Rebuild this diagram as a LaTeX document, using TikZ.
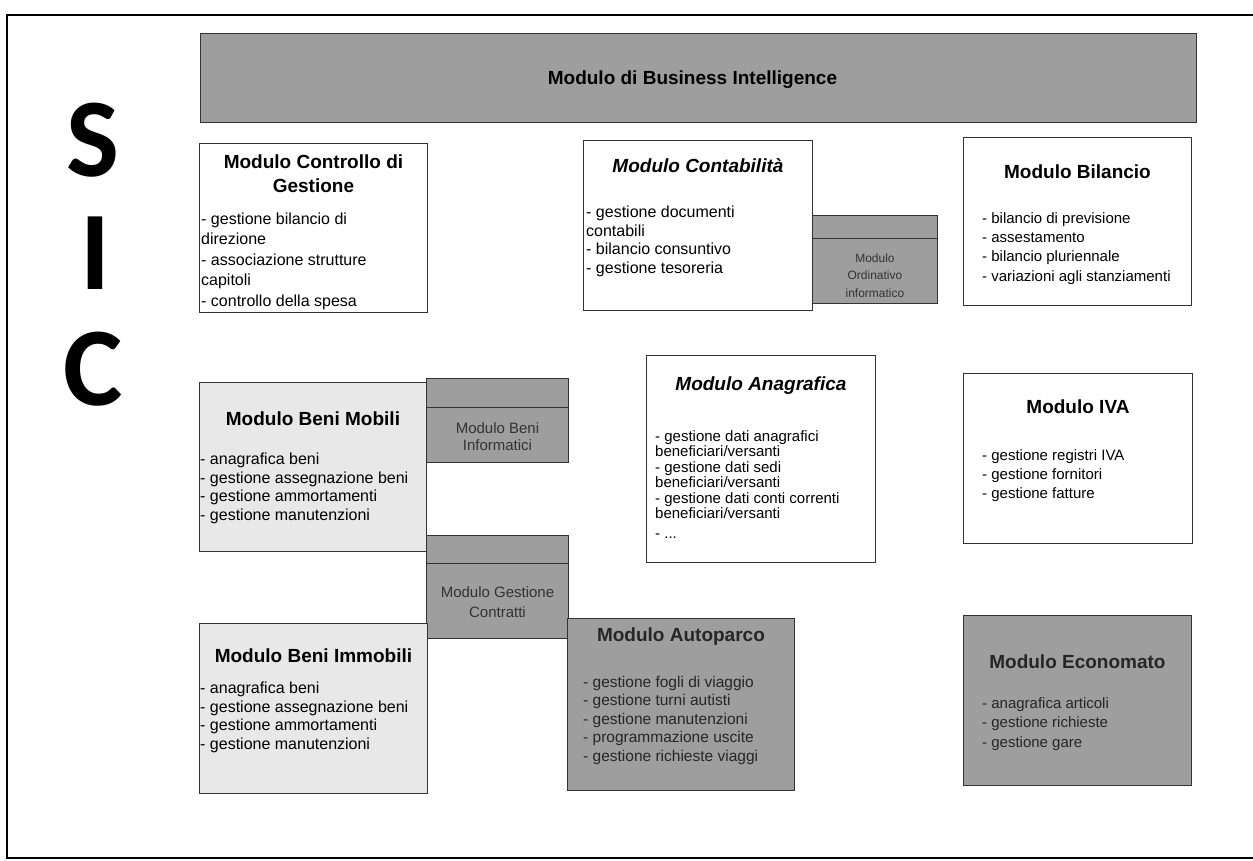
\documentclass[tikz,border=0pt]{standalone}
\usepackage{fontspec}
\setmainfont{Liberation Sans}
\newfontfamily\sicfont{Carlito}
\usetikzlibrary{positioning, calc}

\definecolor{scuro}{gray}{0.62}
\definecolor{chiaro}{gray}{0.91}
\definecolor{bordo}{gray}{0.2}

\tikzset{
  modulo/.style={draw=bordo, line width=0.9pt, fill=white, anchor=north west, inner sep=0pt},
  titolo/.style={font=\fontsize{19}{24}\selectfont\bfseries, inner sep=0pt, anchor=base},
  voci/.style={align=left, inner sep=0pt, anchor=north west},
  piccolo/.style={align=center, inner sep=0pt, anchor=north, text=black!80},
  lettera/.style={font=\sicfont\bfseries\fontsize{112}{112}\selectfont, inner sep=0pt}
}

\begin{document}
\begin{tikzpicture}[x=1pt, y=-1pt]
  \useasboundingbox (0,0) rectangle (1253,860);
  \draw[line width=1.3pt] (7,15) rectangle (1262,858);

  % sigla
  \node[lettera] (s) at (93,140) {S};
  \node[lettera] (i) at (95,253) {I};
  \node[lettera] (c) at (93,369) {C};

  % business intelligence
  \node[modulo, fill=scuro, minimum width=996pt, minimum height=89pt] (bi) at (200,33) {};
  \node[titolo, font=\fontsize{19}{22}\selectfont\bfseries] (biT) at ($(bi.north)+(-6,51)$) {Modulo di Business Intelligence};

  % prima fila
  \node[modulo, fill=scuro, minimum width=125pt, minimum height=88pt] (ordin) at (812,215) {};
  \draw[bordo, line width=0.9pt] ($(ordin.north west)+(0,23)$) -- ($(ordin.north east)+(0,23)$);
  \node[piccolo, font=\fontsize{12}{17.5}\selectfont] (ordinT) at ($(ordin.north)+(0,38.4)$) {Modulo\\Ordinativo\\informatico};

  \node[modulo, minimum width=228pt, minimum height=169pt] (ctrl) at (199,143) {};
  \node[titolo, align=center, anchor=north] (ctrlT) at ($(ctrl.north)+(0,12)$) {Modulo Controllo di\\Gestione};
  \node[voci, font=\fontsize{16}{20.5}\selectfont] (ctrlV) at ($(ctrl.north west)+(2,69.5)$)
    {- gestione bilancio di\\direzione\\- associazione strutture\\capitoli\\- controllo della spesa};

  \node[modulo, minimum width=229pt, minimum height=170pt] (conta) at (583,140) {};
  \node[titolo, font=\fontsize{19}{24}\selectfont\bfseries\itshape] (contaT) at ($(conta.north)+(0,32)$) {Modulo Contabilità};
  \node[voci, font=\fontsize{16}{18.7}\selectfont] (contaV) at ($(conta.north west)+(3,65.5)$)
    {- gestione documenti\\contabili\\- bilancio consuntivo\\- gestione tesoreria};

  \node[modulo, minimum width=228pt, minimum height=168pt] (bil) at (963,137) {};
  \node[titolo] (bilT) at ($(bil.north)+(0,41)$) {Modulo Bilancio};
  \node[voci, font=\fontsize{15}{19.3}\selectfont] (bilV) at ($(bil.north west)+(19,75.3)$)
    {- bilancio di previsione\\- assestamento\\- bilancio pluriennale\\- variazioni agli stanziamenti};

  % seconda fila
  \node[modulo, fill=scuro, minimum width=142pt, minimum height=84pt] (info) at (426,378) {};
  \draw[bordo, line width=0.9pt] ($(info.north west)+(0,29)$) -- ($(info.north east)+(0,29)$);
  \node[piccolo, font=\fontsize{15}{17}\selectfont] (infoT) at ($(info.north)+(0,44.3)$) {Modulo Beni\\Informatici};

  \node[modulo, fill=chiaro, minimum width=227pt, minimum height=169pt] (mob) at (199,382) {};
  \node[titolo] (mobT) at ($(mob.north)+(0,43)$) {Modulo Beni Mobili};
  \node[voci, font=\fontsize{16}{18.7}\selectfont] (mobV) at ($(mob.north west)+(1,70.5)$)
    {- anagrafica beni\\- gestione assegnazione beni\\- gestione ammortamenti\\- gestione manutenzioni};

  \node[modulo, minimum width=229pt, minimum height=207pt] (anag) at (646,355) {};
  \node[titolo, font=\fontsize{19}{24}\selectfont\bfseries\itshape] (anagT) at ($(anag.north)+(0,35)$) {Modulo Anagrafica};
  \node[voci, font=\fontsize{15}{15.5}\selectfont] (anagV) at ($(anag.north west)+(9,75.3)$)
    {- gestione dati anagrafici\\beneficiari/versanti\\- gestione dati sedi\\beneficiari/versanti\\- gestione dati conti correnti\\beneficiari/versanti\\[4.5pt]- ...};

  \node[modulo, minimum width=229pt, minimum height=170pt] (iva) at (963,373) {};
  \node[titolo] (ivaT) at ($(iva.north)+(0,40)$) {Modulo IVA};
  \node[voci, font=\fontsize{15}{19}\selectfont] (ivaV) at ($(iva.north west)+(19,76.3)$)
    {- gestione registri IVA\\- gestione fornitori\\- gestione fatture};

  % terza fila
  \node[modulo, fill=scuro, minimum width=142pt, minimum height=103pt] (contr) at (426,535) {};
  \draw[bordo, line width=0.9pt] ($(contr.north west)+(0,28)$) -- ($(contr.north east)+(0,28)$);
  \node[piccolo, font=\fontsize{15}{20}\selectfont] (contrT) at ($(contr.north)+(0,51.3)$) {Modulo Gestione\\Contratti};

  \node[modulo, fill=chiaro, minimum width=228pt, minimum height=170pt] (immo) at (199,623) {};
  \node[titolo] (immoT) at ($(immo.north)+(0,39)$) {Modulo Beni Immobili};
  \node[voci, font=\fontsize{16}{18.7}\selectfont] (immoV) at ($(immo.north west)+(1,58.5)$)
    {- anagrafica beni\\- gestione assegnazione beni\\- gestione ammortamenti\\- gestione manutenzioni};

  \node[modulo, fill=scuro, minimum width=227pt, minimum height=172pt] (auto) at (567,618) {};
  \node[titolo, text=black!85] (autoT) at ($(auto.north)+(0,23)$) {Modulo Autoparco};
  \node[voci, font=\fontsize{15.5}{18.5}\selectfont, text=black!85] (autoV) at ($(auto.north west)+(16,57.9)$)
    {- gestione fogli di viaggio\\- gestione turni autisti\\- gestione manutenzioni\\- programmazione uscite\\- gestione richieste viaggi};

  \node[modulo, fill=scuro, minimum width=228pt, minimum height=170pt] (econ) at (963,615) {};
  \node[titolo, text=black!85] (econT) at ($(econ.north)+(0,53)$) {Modulo Economato};
  \node[voci, font=\fontsize{15}{19.5}\selectfont, text=black!85] (econV) at ($(econ.north west)+(19,82.3)$)
    {- anagrafica articoli\\- gestione richieste\\- gestione gare};
\end{tikzpicture}
\end{document}
